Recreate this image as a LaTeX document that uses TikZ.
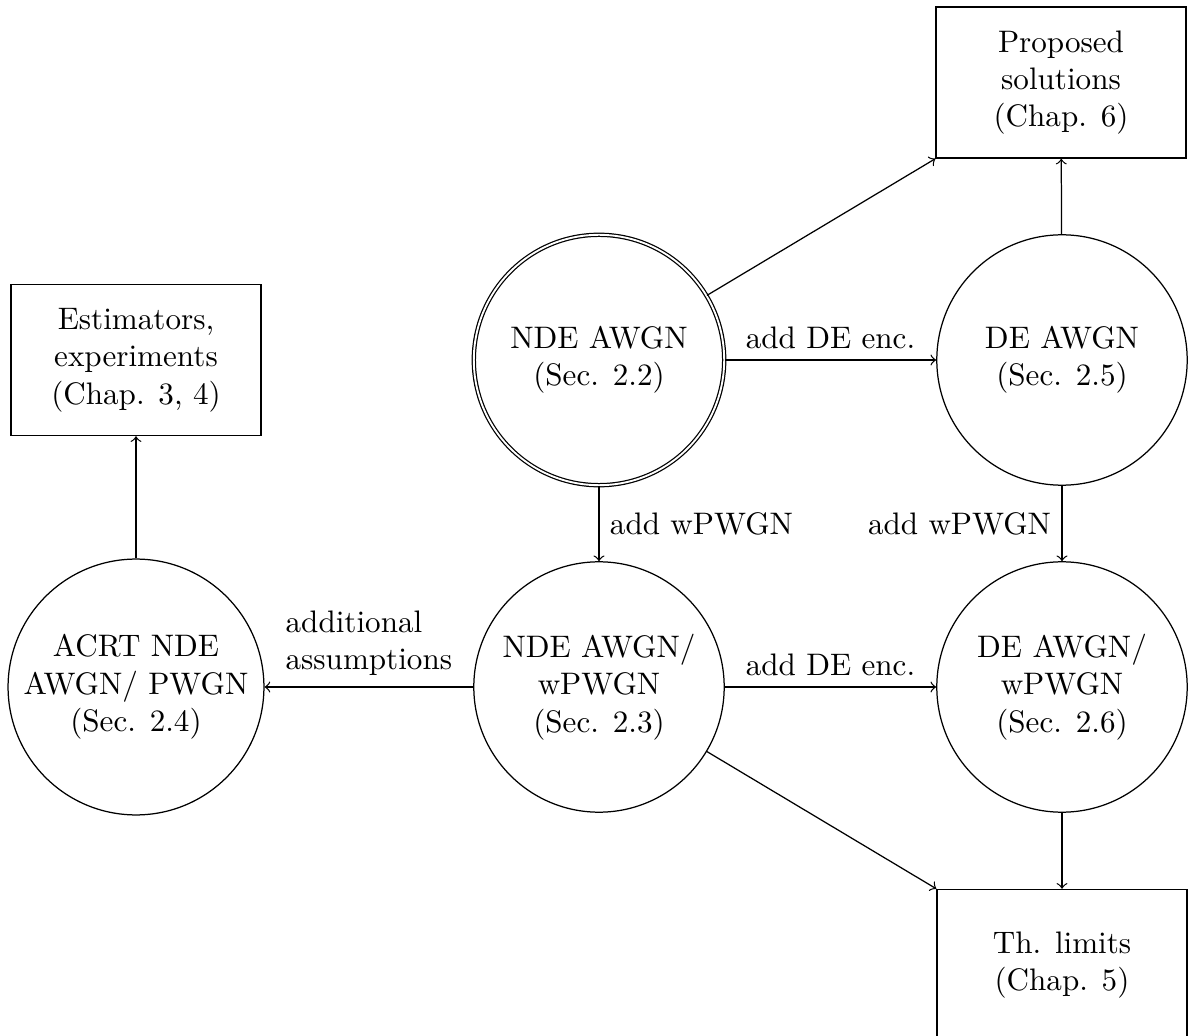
\documentclass[tikz,border=0pt]{standalone}
\begin{document}
\begin{tikzpicture}[x=0.3215pt,y=-0.3215pt,>=to,
  state/.style={circle,draw,minimum size=80.5pt,align=center,inner sep=1pt},
  box/.style={rectangle,draw,minimum width=80.4pt,minimum height=48.6pt,align=center,inner sep=1pt}]
\useasboundingbox (0,0) rectangle (1190,1036);
\clip (0,0) rectangle (1190,1036);
\node[box] (est) at (136,360) {Estimators,\\experiments\\(Chap. 3, 4)};
\node[state] (acrt) at (136,687) {ACRT NDE\\AWGN/ PWGN\\(Sec. 2.4)};
\node[state,double] (nde) at (599,360) {NDE AWGN\\(Sec. 2.2)};
\node[state] (ndew) at (599,687) {NDE AWGN/\\wPWGN\\(Sec. 2.3)};
\node[state] (de) at (1062,360) {DE AWGN\\(Sec. 2.5)};
\node[state] (dew) at (1062,687) {DE AWGN/\\wPWGN\\(Sec. 2.6)};
\node[box] (prop) at (1061,82.5) {Proposed\\solutions\\(Chap. 6)};
\node[box] (th) at (1062,965) {Th. limits\\(Chap. 5)};
\draw[->] (nde) -- node[above] {add DE enc.} (de);
\draw[->] (nde) -- node[right] {add wPWGN} (ndew);
\draw[->] (de) -- node[left] {add wPWGN} (dew);
\draw[->] (ndew) -- node[above,align=left] {additional\\assumptions} (acrt);
\draw[->] (ndew) -- node[above] {add DE enc.} (dew);
\draw[->] (ndew) -- (th.north west);
\draw[->] (dew) -- (th);
\draw[->] (acrt) -- (est);
\draw[->] (nde) -- (prop.south west);
\draw[->] (de) -- (prop);
\end{tikzpicture}
\end{document}
